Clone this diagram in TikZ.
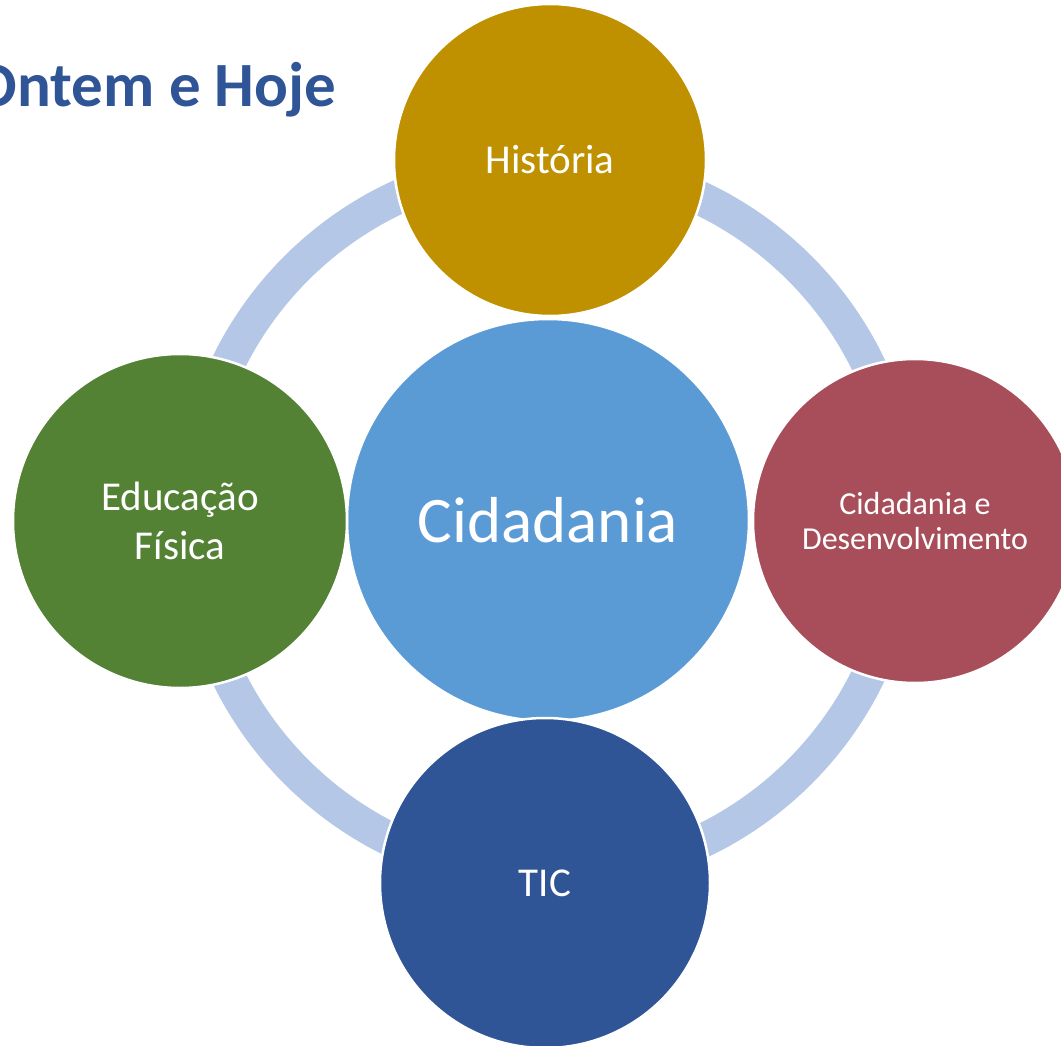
\documentclass[tikz,border=0pt]{standalone}
\usepackage{fontspec}
\setmainfont{Carlito}
\definecolor{ciRingBlue}{HTML}{B4C7E7}
\definecolor{ciCenterBlue}{HTML}{5B9BD5}
\definecolor{ciGold}{HTML}{BF9000}
\definecolor{ciRed}{HTML}{A84E5A}
\definecolor{ciGreen}{HTML}{548235}
\definecolor{ciDarkBlue}{HTML}{2F5597}
\begin{document}
\begin{tikzpicture}[x=1pt,y=-1pt]
\tikzset{
    ciCircle/.style={circle,draw=white,line width=2.5pt,inner sep=0pt,text=white,align=center,font=\fontsize{41}{49}\selectfont},
    ciRing/.style={draw=ciRingBlue,line width=34pt},
}
\useasboundingbox (0,0) rectangle (1061,1046);
\clip (0,0) rectangle (1061,1046);

\node[anchor=base east,text=ciDarkBlue,font=\fontsize{63}{70}\selectfont\bfseries] (title) at (340,107) {Ontem e Hoje};

\coordinate (hub) at (548,520);
\draw[ciRing] (hub) circle[radius=356];

\node[ciCircle,fill=ciCenterBlue,minimum size=402pt,font=\fontsize{65}{70}\selectfont] (cid) at (hub) {Cidadania};
\node[ciCircle,fill=ciGold,minimum size=312pt] (hist) at (550,160) {História};
\node[ciCircle,fill=ciRed,minimum size=324pt,font=\fontsize{32}{35}\selectfont] (cidDes) at (915,521) {Cidadania e\\Desenvolvimento};
\node[ciCircle,fill=ciGreen,minimum size=334pt] (edFis) at (180,521) {Educação\\Física};
\node[ciCircle,fill=ciDarkBlue,minimum size=330pt] (tic) at (545,883) {TIC};
\end{tikzpicture}
\end{document}
